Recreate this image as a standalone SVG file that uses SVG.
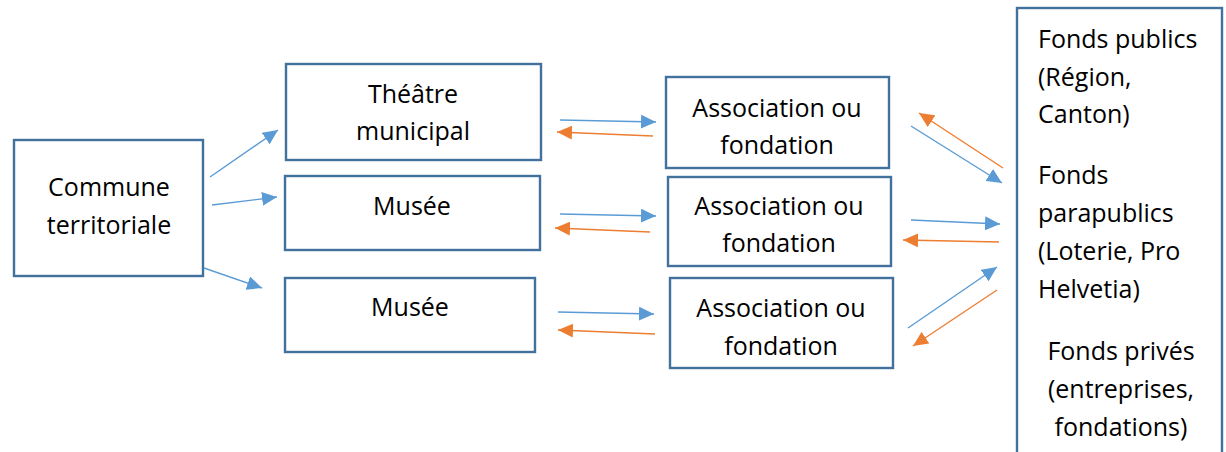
<svg xmlns="http://www.w3.org/2000/svg" width="1226" height="452" viewBox="0 0 1226 452">
<style>
.box{fill:#fff;stroke:#41719C;stroke-width:2.4}
.t{font-family:"Open Sans","Liberation Sans",sans-serif;font-size:25px;fill:#000;text-anchor:middle}
.tl{font-family:"Open Sans","Liberation Sans",sans-serif;font-size:25px;fill:#000}
.b{stroke:#5B9BD5;stroke-width:1.4;fill:none;marker-end:url(#ab)}
.o{stroke:#ED7D31;stroke-width:1.4;fill:none;marker-end:url(#ao)}
</style>
<defs>
<marker id="ab" markerUnits="userSpaceOnUse" markerWidth="16" markerHeight="14" refX="15" refY="7" orient="auto"><path d="M0,0 L15,7 L0,14 z" fill="#5B9BD5"/></marker>
<marker id="ao" markerUnits="userSpaceOnUse" markerWidth="16" markerHeight="14" refX="15" refY="7" orient="auto"><path d="M0,0 L15,7 L0,14 z" fill="#ED7D31"/></marker>
</defs>
<rect width="1226" height="452" fill="#fff"/>
<g id="commune"><rect class="box" x="14" y="140" width="189" height="136"/><text class="t" x="109" y="196">Commune</text><text class="t" x="109" y="234">territoriale</text></g>
<g id="theatre"><rect class="box" x="286" y="64" width="255" height="96"/><text class="t" x="413" y="103">Théâtre</text><text class="t" x="413" y="140">municipal</text></g>
<g id="musee1"><rect class="box" x="285" y="176" width="255" height="74"/><text class="t" x="412" y="215">Musée</text></g>
<g id="musee2"><rect class="box" x="285" y="278" width="250" height="74"/><text class="t" x="410" y="316">Musée</text></g>
<g id="assoc1"><rect class="box" x="666" y="77" width="223" height="91"/><text class="t" x="777" y="117">Association ou</text><text class="t" x="777" y="154">fondation</text></g>
<g id="assoc2"><rect class="box" x="668" y="177" width="223" height="89"/><text class="t" x="779" y="215">Association ou</text><text class="t" x="779" y="252">fondation</text></g>
<g id="assoc3"><rect class="box" x="670" y="278" width="223" height="90"/><text class="t" x="781" y="317">Association ou</text><text class="t" x="781" y="355">fondation</text></g>
<g id="fonds"><rect class="box" x="1017" y="8" width="205" height="470"/>
<text class="tl" x="1038" y="48">Fonds publics</text>
<text class="tl" x="1038" y="86">(Région,</text>
<text class="tl" x="1038" y="123">Canton)</text>
<text class="tl" x="1038" y="184">Fonds</text>
<text class="tl" x="1038" y="222">parapublics</text>
<text class="tl" x="1038" y="260">(Loterie, Pro</text>
<text class="tl" x="1038" y="298">Helvetia)</text>
<text class="t" x="1121" y="360">Fonds privés</text>
<text class="t" x="1121" y="398">(entreprises,</text>
<text class="t" x="1121" y="436">fondations)</text>
</g>
<g id="connectors">
<line class="b" x1="210" y1="177" x2="278" y2="130"/>
<line class="b" x1="212" y1="205" x2="277" y2="197"/>
<line class="b" x1="204" y1="268" x2="262" y2="288"/>
<line class="b" x1="560" y1="120" x2="656" y2="122"/>
<line class="o" x1="653" y1="136" x2="557" y2="132"/>
<line class="b" x1="560" y1="214" x2="656" y2="216"/>
<line class="o" x1="650" y1="232" x2="555" y2="228"/>
<line class="b" x1="558" y1="312" x2="654" y2="314"/>
<line class="o" x1="655" y1="334" x2="558" y2="330"/>
<line class="b" x1="911" y1="126" x2="1002" y2="183"/>
<line class="o" x1="1003" y1="168" x2="919" y2="113"/>
<line class="b" x1="911" y1="220" x2="1000" y2="224"/>
<line class="o" x1="999" y1="242" x2="903" y2="240"/>
<line class="b" x1="908" y1="328" x2="997" y2="267"/>
<line class="o" x1="997" y1="290" x2="913" y2="346"/>
</g>
</svg>
